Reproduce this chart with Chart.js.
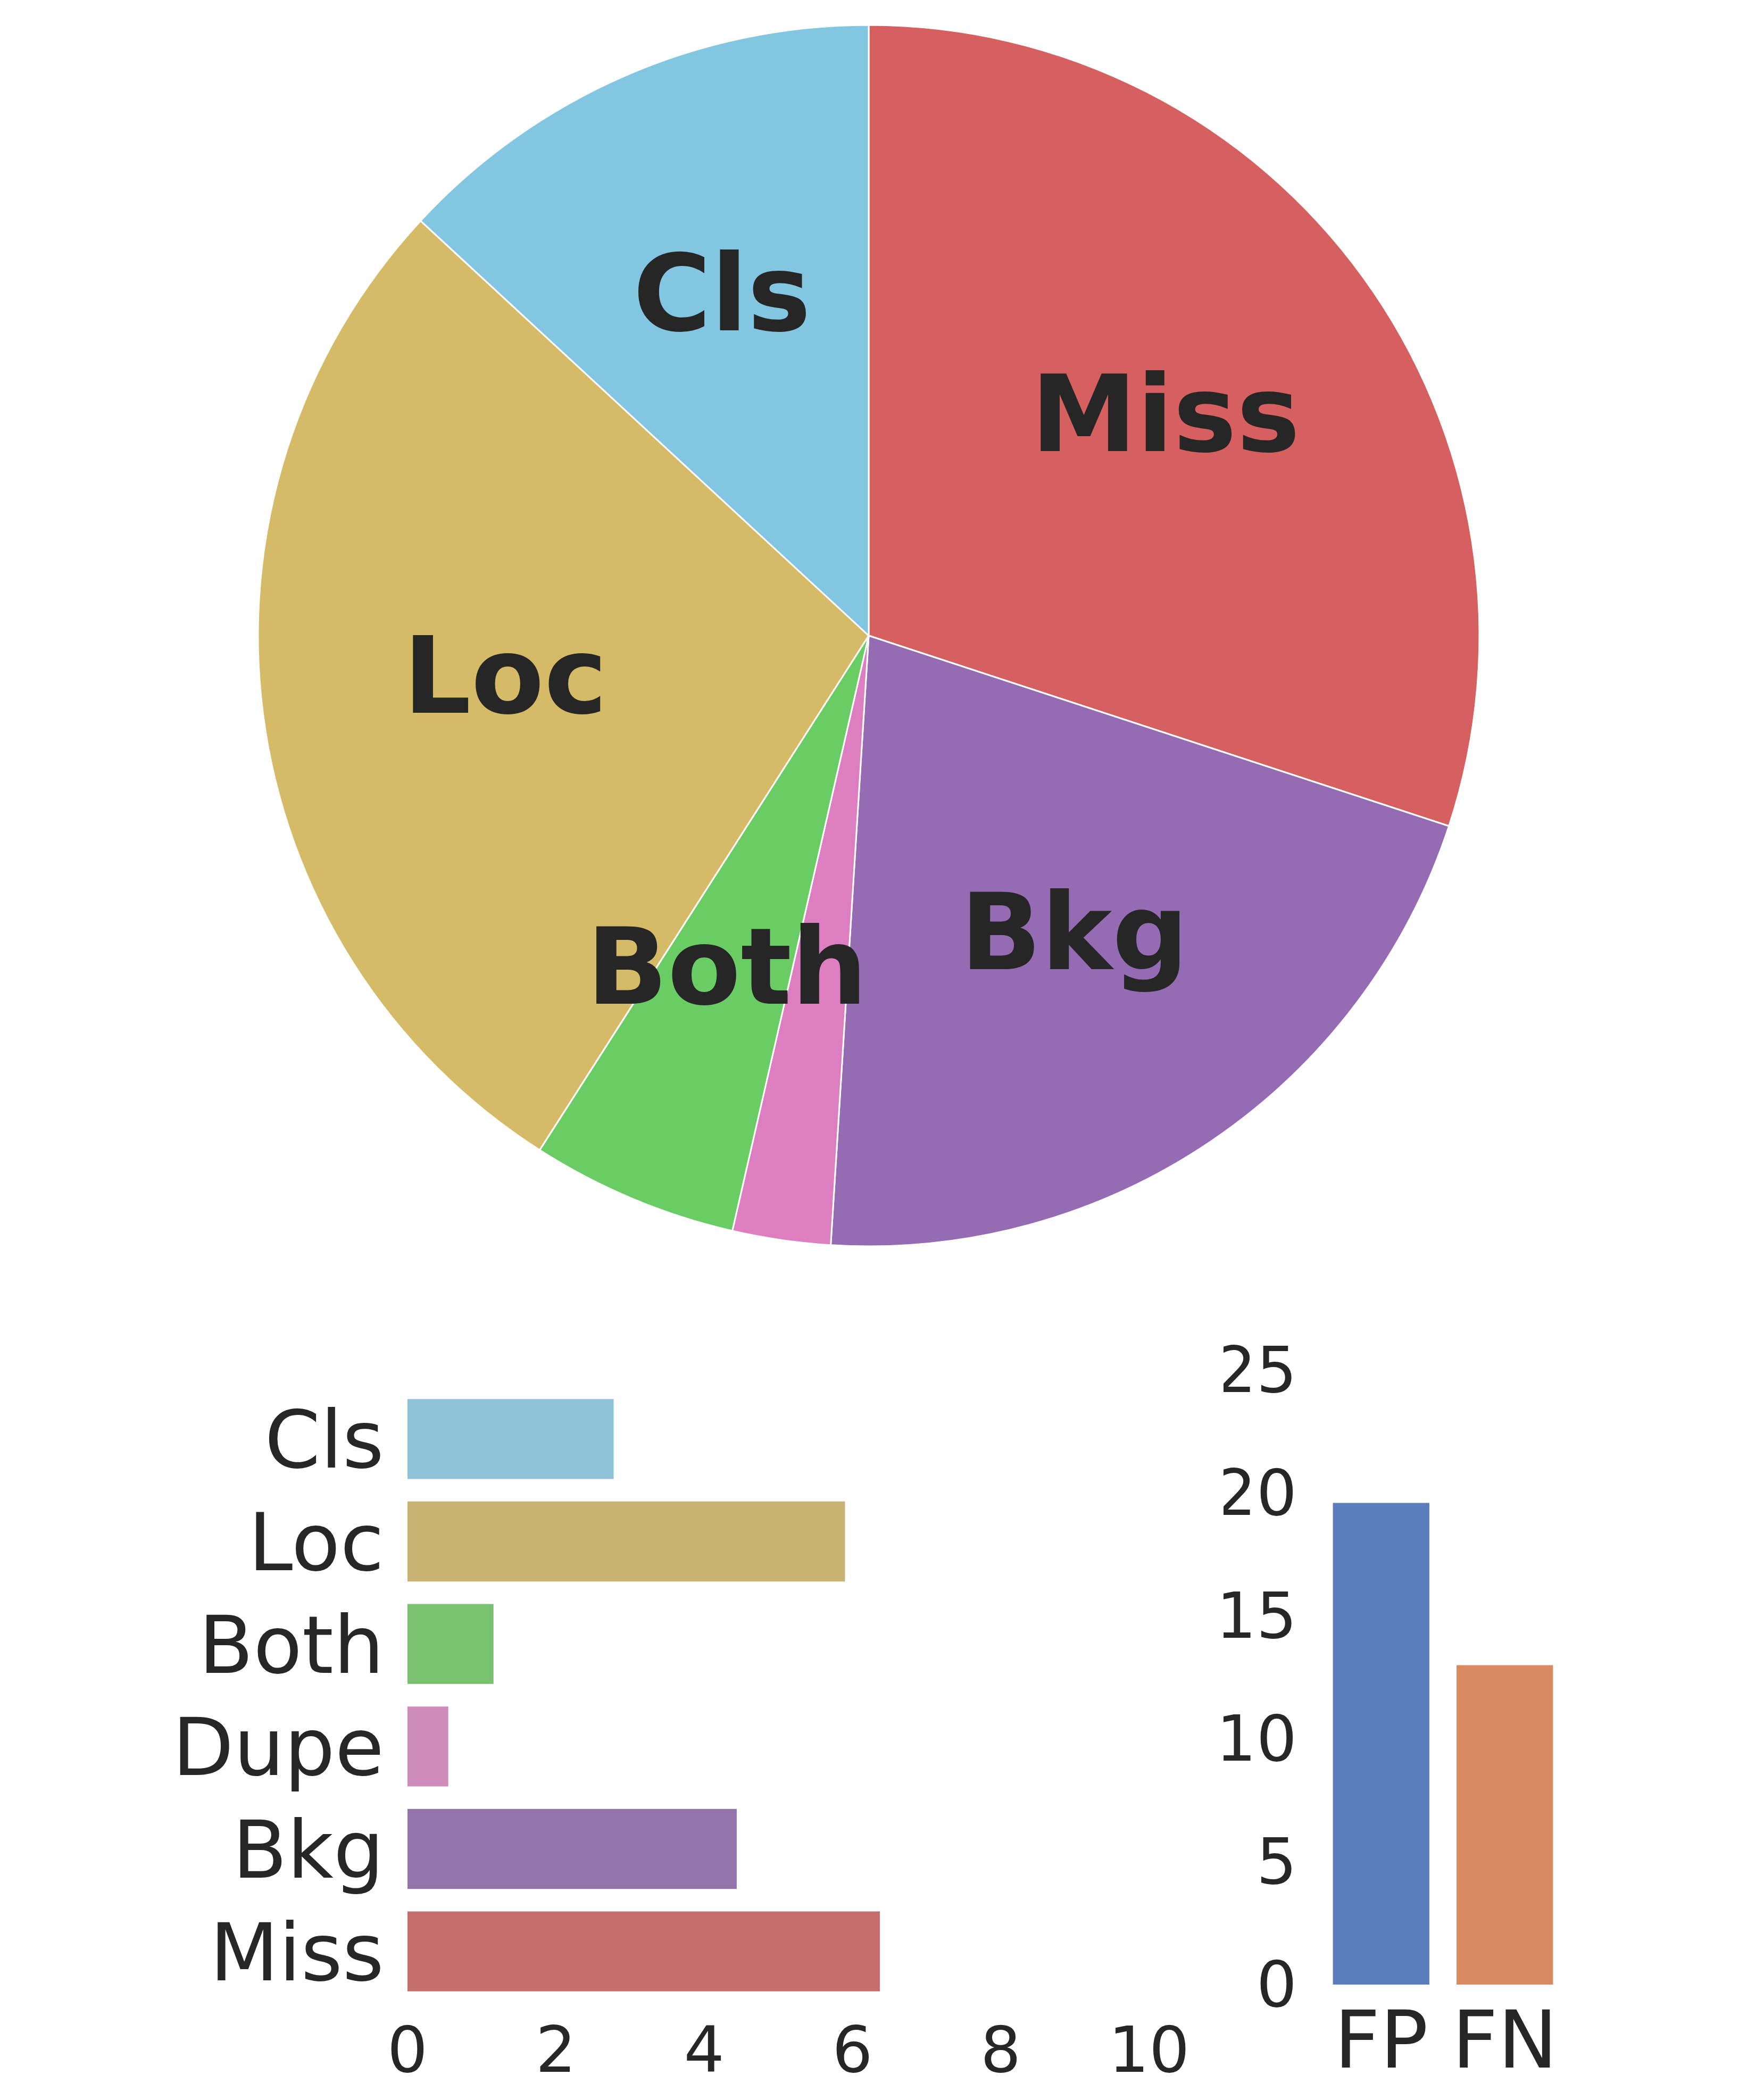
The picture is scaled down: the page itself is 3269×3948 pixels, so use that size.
<!DOCTYPE html>
<html>
<head>
<meta charset="utf-8">
<script src="https://cdn.jsdelivr.net/npm/chart.js@4.4.1/dist/chart.umd.min.js"></script>
<style>
  html, body { margin: 0; padding: 0; background: #fff; }
  body { width: 3269px; height: 3948px; position: relative; overflow: hidden; }
  canvas { position: absolute; }
</style>
</head>
<body>
<canvas id="pie" width="3266" height="2390" style="left:0;top:0;width:3266px;height:2390px"></canvas>
<canvas id="errBars" width="2300" height="1448" style="left:0;top:2500px;width:2300px;height:1448px"></canvas>
<canvas id="fpfn" width="969" height="1448" style="left:2300px;top:2500px;width:969px;height:1448px"></canvas>
<script>
// error types, top to bottom as in the bar chart
const categories = ['Cls', 'Loc', 'Both', 'Dupe', 'Bkg', 'Miss'];
const errorValues = [2.78, 5.90, 1.16, 0.55, 4.44, 6.37];
const pieColors = ['#82c6e2', '#d5bb67', '#6acc64', '#dc7ec0', '#956cb4', '#d65f5f'];
const barColors = ['#8fc1d6', '#c8b273', '#78c16f', '#d08bbd', '#9475ab', '#c66e6d'];

const xTicks = [0, 2, 4, 6, 8, 10];

const fpfnLabels = ['FP', 'FN'];
const fpfnValues = [19.6, 13.0];
const fpfnColors = ['#5b7dbd', '#d88b60'];
const yTicks = [0, 5, 10, 15, 20, 25];

const TEXT = '#262626';
Chart.defaults.font.family = '"DejaVu Sans", sans-serif';
Chart.defaults.color = TEXT;
Chart.defaults.animation = false;
Chart.defaults.plugins.legend.display = false;
Chart.defaults.plugins.tooltip.enabled = false;

// pie drawn clockwise from 12 o'clock, so reverse the order
const pieLabels = categories.slice().reverse();
const pieValues = errorValues.slice().reverse();
const pieFill = pieColors.slice().reverse();

const sliceLabels = {
  id: 'sliceLabels',
  afterDatasetsDraw(chart) {
    const { ctx } = chart;
    const meta = chart.getDatasetMeta(0);
    const total = pieValues.reduce((a, b) => a + b, 0);
    const size = 200;
    ctx.save();
    ctx.font = `bold ${size}px "DejaVu Sans"`;
    ctx.fillStyle = TEXT;
    ctx.textAlign = 'center';
    ctx.textBaseline = 'alphabetic';
    meta.data.forEach((arc, i) => {
      if (pieValues[i] / total < 0.03) return; // tiny slices get no label
      const mid = (arc.startAngle + arc.endAngle) / 2;
      const r = arc.outerRadius * 0.6;
      const x = arc.x + Math.cos(mid) * r;
      const y = arc.y + Math.sin(mid) * r;
      ctx.fillText(pieLabels[i], x, y + size * 0.285);
    });
    ctx.restore();
  },
};

// keep label overflow from shrinking the plot area
function noOverflow(scale) {
  scale.paddingTop = 0;
  scale.paddingBottom = 0;
  scale.paddingLeft = 0;
  scale.paddingRight = 0;
}

// canvas 'middle' sits a bit high for DejaVu; an empty first line
// with a small line height pushes the real label down by lineHeight/2
const nudgeDown = (label) => ['', label];

new Chart(document.getElementById('pie'), {
  type: 'pie',
  data: {
    labels: pieLabels,
    datasets: [{
      data: pieValues,
      backgroundColor: pieFill,
      borderColor: '#ffffff',
      borderWidth: 3,
    }],
  },
  options: {
    responsive: false,
    radius: 1148,
    layout: { padding: 0 },
  },
  plugins: [sliceLabels],
});

new Chart(document.getElementById('errBars'), {
  type: 'bar',
  data: {
    labels: categories,
    datasets: [{
      data: errorValues,
      backgroundColor: barColors,
      borderWidth: 0,
      barPercentage: 0.78,
      categoryPercentage: 1,
    }],
  },
  options: {
    responsive: false,
    indexAxis: 'y',
    layout: { padding: { top: 109, right: 140, bottom: 0, left: 0 } },
    scales: {
      x: {
        type: 'linear',
        min: 0,
        max: 10,
        afterBuildTicks(scale) { scale.ticks = xTicks.map((v) => ({ value: v })); },
        afterFit(scale) { scale.height = 183; noOverflow(scale); },
        grid: { display: false, drawTicks: false },
        border: { display: false },
        ticks: { font: { size: 120 }, padding: 27, color: TEXT },
      },
      y: {
        type: 'category',
        afterFit(scale) { scale.width = 766; noOverflow(scale); },
        grid: { display: false, drawTicks: false },
        border: { display: false },
        ticks: {
          font: { size: 150, lineHeight: '30px' },
          padding: 44,
          color: TEXT,
          callback(value) { return nudgeDown(this.getLabelForValue(value)); },
        },
      },
    },
  },
});

new Chart(document.getElementById('fpfn'), {
  type: 'bar',
  data: {
    labels: fpfnLabels,
    datasets: [{
      data: fpfnValues,
      backgroundColor: fpfnColors,
      borderWidth: 0,
      barPercentage: 0.78,
      categoryPercentage: 1,
    }],
  },
  options: {
    responsive: false,
    layout: { padding: { top: 76, right: 324, bottom: 0, left: 0 } },
    scales: {
      x: {
        afterFit(scale) { scale.height = 217; noOverflow(scale); },
        grid: { display: false, drawTicks: false },
        border: { display: false },
        ticks: { font: { size: 150 }, padding: 27, color: TEXT },
      },
      y: {
        min: 0,
        max: 25,
        afterBuildTicks(scale) { scale.ticks = yTicks.map((v) => ({ value: v })); },
        afterFit(scale) { scale.width = 180; noOverflow(scale); },
        grid: { display: false, drawTicks: false },
        border: { display: false },
        ticks: {
          font: { size: 120, lineHeight: '20px' },
          padding: 42,
          color: TEXT,
          callback(value) { return nudgeDown(String(value)); },
        },
      },
    },
  },
});
</script>
</body>
</html>
